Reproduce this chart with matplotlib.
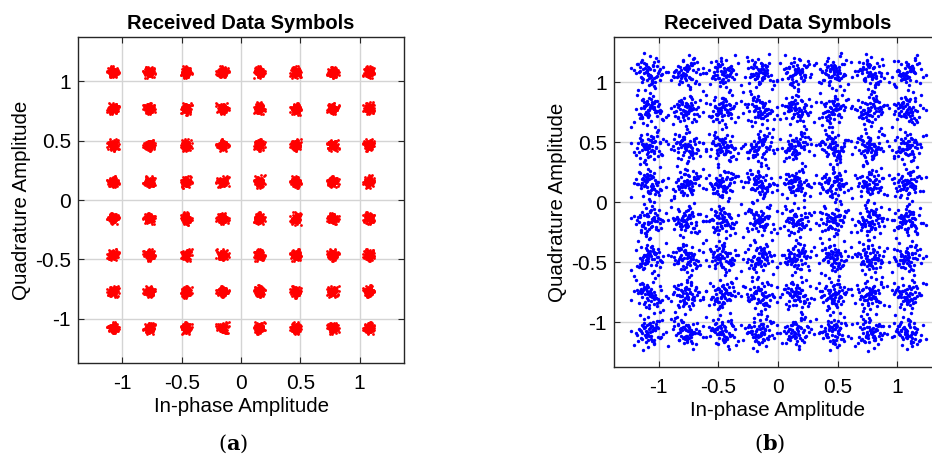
import numpy as np
from matplotlib import pyplot as plt

plt.rcParams['font.family'] = ['Liberation Sans', 'DejaVu Sans']
plt.rcParams['axes.unicode_minus'] = False
plt.rcParams['mathtext.fontset'] = 'dejavuserif'

# 64-QAM levels (I and Q)
levels = [-1.08, -0.772, -0.463, -0.154, 0.154, 0.463, 0.772, 1.08]

# hand-typed noise samples (unit spread), reused for every cluster
noise_i = [0.31, -1.12, 0.58, -0.27, 1.45, -0.83, 0.04, 0.92, -1.63, 0.19, -0.41, 1.07, -0.66, 0.73, -0.08, -1.29,
           0.47, 2.05, -0.95, 0.12, -0.52, 1.31, -0.18, 0.66, -2.21, 0.39, -0.74, 0.85, 0.02, -1.41, 1.74, -0.33,
           0.55, -0.11, -0.89, 1.19, 0.26, -0.58, 0.97, -1.86, 0.08, 0.43, -0.24, 1.58, -1.03, 0.69, -0.45, 0.15,
           -0.71, 2.42, -0.36, 0.81, -1.17, 0.22, 0.61, -0.03, -1.52, 1.01, -0.62, 0.35, -0.14, 1.26, -0.99, 0.49]
noise_q = [-0.44, 0.87, -1.21, 0.14, 0.63, -0.02, 1.38, -0.79, 0.29, -1.57, 0.95, -0.31, 0.06, 1.82, -0.68, 0.51,
           -0.15, -1.04, 0.77, -2.08, 0.36, -0.57, 1.13, -0.21, 0.42, 0.01, -0.92, 1.61, -0.39, 0.71, -0.12, -1.33,
           0.24, 1.02, -0.64, 0.18, -1.76, 0.53, -0.07, 0.89, -0.48, 1.27, -0.26, -0.84, 0.11, 2.19, -1.09, 0.32,
           0.67, -0.54, -0.19, 1.49, -0.73, 0.44, -1.38, 0.09, 0.83, -0.35, 1.16, -0.97, 0.27, -0.61, 0.58, -1.45]

spread_a = 0.022
spread_b = 0.068
ticks = [-1, -0.5, 0, 0.5, 1]
ticklabels = ['-1', '-0.5', '0', '0.5', '1']

# the eight flips / swaps used to make each cluster look a bit different
flips = [(1, 1, False), (-1, 1, False), (1, -1, False), (-1, -1, False),
         (1, 1, True), (-1, 1, True), (1, -1, True), (-1, -1, True)]


def symbols(spread, shift, passes):
    xs, ys = [], []
    n = len(noise_i)
    c = 0
    for q in levels:
        for i in levels:
            sx, sy, swap = flips[(c * 3 + shift) % 8]
            for p in range(passes):
                off = (7 * c + shift + 23 * p) % n
                for k in range(n):
                    u = noise_i[k]
                    v = noise_q[(k + off) % n]
                    if swap:
                        u, v = v, u
                    xs.append(i + spread * sx * u)
                    ys.append(q + spread * sy * v)
            c += 1
    return np.array(xs), np.array(ys)


def style(ax):
    ax.set_xlim(-1.375, 1.375)
    ax.set_ylim(-1.375, 1.375)
    ax.set_xticks(ticks)
    ax.set_xticklabels(ticklabels)
    ax.set_yticks(ticks)
    ax.set_yticklabels(ticklabels)
    ax.grid(True, color='#d4d4d4', linewidth=1)
    ax.set_axisbelow(True)
    ax.tick_params(direction='in', length=4, width=0.8, color='#262626',
                   top=True, right=True, labelsize=15)
    ax.tick_params(axis='x', pad=8)
    ax.tick_params(axis='y', pad=5)
    for s in ax.spines.values():
        s.set_color('#262626')
        s.set_linewidth(1)
    ax.set_title('Received Data Symbols', fontsize=14.5, fontweight='bold', pad=6)
    ax.set_xlabel('In-phase Amplitude', fontsize=14.8, labelpad=3)
    ax.set_ylabel('Quadrature Amplitude', fontsize=14.8, labelpad=3)


fig = plt.figure(figsize=(9.32, 4.59), dpi=100)

ax1 = fig.add_axes([78 / 932, 96 / 459, 326 / 932, 326 / 459])
xa, ya = symbols(spread_a, 0, 2)
ax1.scatter(xa, ya, s=4, c='#ff0000', linewidths=0)
style(ax1)

ax2 = fig.add_axes([614 / 932, 92 / 459, 328 / 932, 330 / 459])
xb, yb = symbols(spread_b, 5, 1)
ax2.scatter(xb, yb, s=6, c='#0000ff', linewidths=0)
style(ax2)

fig.text(233 / 932, 1 - 444 / 459, r'($\mathbf{a}$)', fontsize=15, family='DejaVu Serif', ha='center', va='center')
fig.text(770 / 932, 1 - 444 / 459, r'($\mathbf{b}$)', fontsize=15, family='DejaVu Serif', ha='center', va='center')

fig.savefig('out.png', dpi=100)
